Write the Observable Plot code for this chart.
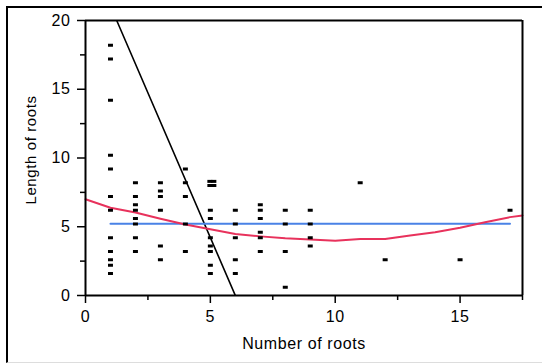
<!DOCTYPE html>
<html>
<head>
<meta charset="utf-8">
<script src="https://cdn.jsdelivr.net/npm/d3@7"></script>
<script src="https://cdn.jsdelivr.net/npm/@observablehq/plot@0.6"></script>
<style>
  html, body { margin: 0; padding: 0; background: #fff; }
  #wrap { position: relative; width: 542px; height: 363px; overflow: hidden; }
  #box { position: absolute; left: 6px; top: 6px; width: 540px; height: 354px;
         border-left: 2px solid #000; border-top: 2px solid #000; border-bottom: 1px solid #ddd; }
  #chart { position: absolute; left: 0; top: 0; }
  #chart svg text { letter-spacing: 0.6px; font-family: 'Liberation Sans', Arial, sans-serif; }
</style>
</head>
<body>
<div id="wrap"><div id="box"></div><div id="chart"></div></div>
<script>
// Scatter data: number of roots vs length of roots
const numberOfRoots = [
  1,1,1,1,1,1,1,1,1,1,1,1,
  2,2,2,2,2,2,2,2,
  3,3,3,3,3,3,
  4,4,4,4,4,
  4.98,5.14,4.98,5.14,5,5,5,5,5,5,5,
  6,6,6,6,6,
  7,7,7,7,7,7,
  8,8,8,8,
  9,9,9,9,
  11,12,15,17
];
const lengthOfRoots = [
  18.2,17.2,14.2,10.2,9.2,7.2,6.2,4.2,3.2,2.6,2.2,1.6,
  8.2,7.2,6.6,6.2,5.6,5.2,4.2,3.2,
  8.2,7.6,7.2,6.2,3.6,2.6,
  9.2,8.2,7.2,5.2,3.2,
  8.3,8.3,8.0,8.0,6.2,5.6,4.2,3.6,3.2,2.2,1.6,
  6.2,5.2,4.2,2.6,1.6,
  6.6,6.2,5.6,4.6,4.2,3.2,
  6.2,5.2,3.2,0.6,
  6.2,5.2,4.2,3.6,
  8.2,2.6,2.6,6.2
];
// Linear fit (black)
const fitX = [1.25, 6.0];
const fitY = [20, 0];
// Mean line (blue)
const meanX = [1, 17];
const meanY = [5.22, 5.22];
// Smoother (red)
const smoothX = [0,1,2,3,4,5,6,7,8,9,10,11,12,13,14,15,16,17,17.5];
const smoothY = [7.0,6.38,6.04,5.58,5.16,4.82,4.48,4.3,4.16,4.07,3.99,4.11,4.11,4.36,4.6,4.92,5.33,5.7,5.82];
// Ticks
const xMajor = [0,5,10,15];
const xMinor = [2.5,7.5,12.5,17.5];
const yMajor = [0,5,10,15,20];
const yMinor = [2.5,7.5,12.5,17.5];

const points = numberOfRoots.map((x, i) => ({x, y: lengthOfRoots[i]}));
const fit = fitX.map((x, i) => ({x, y: fitY[i]}));
const mean = meanX.map((x, i) => ({x, y: meanY[i]}));
const smooth = smoothX.map((x, i) => ({x, y: smoothY[i]}));

const dash = { draw(ctx, size) { ctx.rect(-2.5, -1.5, 5, 3); } };

const chart = Plot.plot({
  width: 542,
  height: 363,
  marginLeft: 85,
  marginRight: 20,
  marginTop: 20,
  marginBottom: 68,
  style: { fontFamily: "'Liberation Sans', Arial, sans-serif", fontSize: "16px", color: "#000", background: "transparent" },
  x: { domain: [0, 17.5], label: null },
  y: { domain: [0, 20], label: null },
  marks: [
    Plot.line(fit, { x: "x", y: "y", stroke: "#000", strokeWidth: 1.6, clip: true }),
    Plot.line(mean, { x: "x", y: "y", stroke: "#4a82e6", strokeWidth: 2 }),
    Plot.line(smooth, { x: "x", y: "y", stroke: "#e8325c", strokeWidth: 2 }),
    Plot.dot(points, { x: "x", y: "y", symbol: dash, fill: "#000", stroke: null, r: 3 }),
    Plot.ruleY([0], { stroke: "#000", strokeWidth: 2 }),
    Plot.ruleY([20], { stroke: "#000", strokeWidth: 2 }),
    Plot.ruleX([0], { stroke: "#000", strokeWidth: 2 }),
    Plot.ruleX([17.5], { stroke: "#000", strokeWidth: 2 }),
    Plot.axisX({ ticks: xMajor, tickSize: 8, tickPadding: 7, strokeWidth: 1.5, fontSize: 16, label: null }),
    Plot.axisX({ ticks: xMinor, tickSize: 5, tickFormat: () => "", strokeWidth: 1.5, label: null }),
    Plot.axisY({ ticks: yMajor, tickSize: 8, tickPadding: 7, strokeWidth: 1.5, fontSize: 16, label: null }),
    Plot.axisY({ ticks: yMinor, tickSize: 5, tickFormat: () => "", strokeWidth: 1.5, label: null }),
    Plot.text(["Number of roots"], { frameAnchor: "bottom", lineAnchor: "middle", dy: 48, fontSize: 16, fill: "#000" }),
    Plot.text(["Length of roots"], { frameAnchor: "left", textAnchor: "middle", lineAnchor: "middle", dx: -54, dy: -8, rotate: -90, fontSize: 15, fill: "#000" })
  ]
});
document.getElementById("chart").appendChild(chart);
</script>
</body>
</html>
